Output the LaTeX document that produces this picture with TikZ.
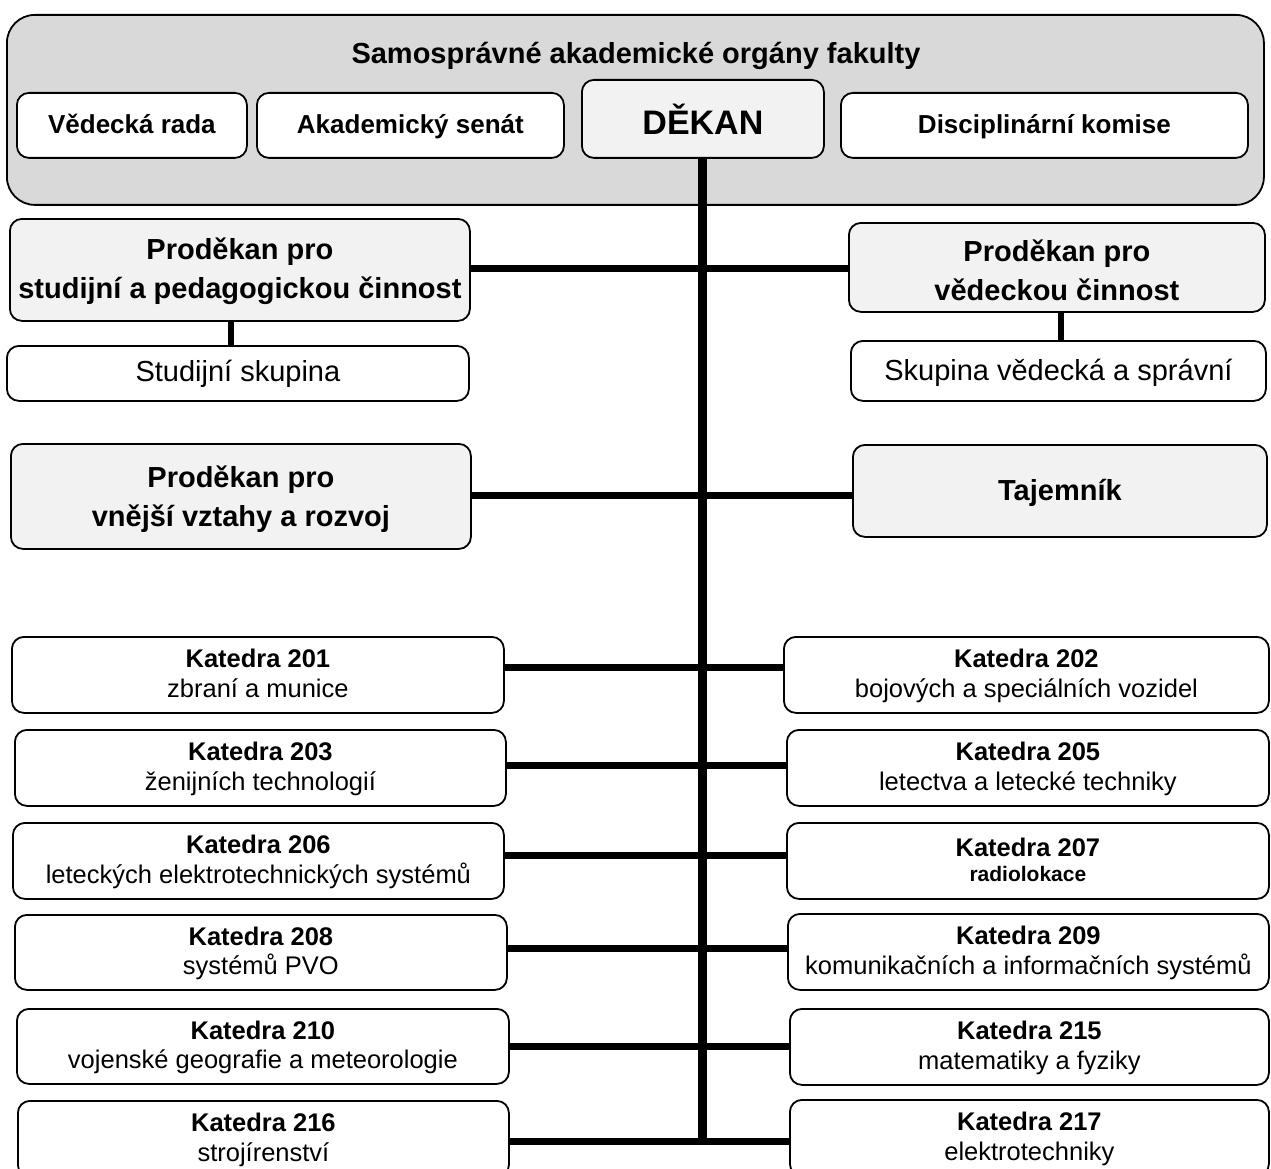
\documentclass[tikz,border=0pt]{standalone}
\usepackage{fontspec}
\setmainfont{Liberation Sans}
\definecolor{outerg}{HTML}{D9D9D9}
\definecolor{lightg}{HTML}{F2F2F2}
\newcommand{\fsz}[2]{\fontsize{#1}{#2}\selectfont}
\newcommand{\st}{\rule[-0.2em]{0pt}{1em}}
\newcommand{\stp}{\rule[-0.05em]{0pt}{0.9em}}
\newcommand{\stv}{\rule[0em]{0pt}{0.95em}}
\begin{document}
\begin{tikzpicture}[x=1pt,y=-1pt,
  box/.style={draw=black, line width=1.8pt, rounded corners=12pt, inner sep=0pt, align=center, anchor=north west},
  wbox/.style={box, fill=white},
  gbox/.style={box, fill=lightg},
  top/.style={wbox, font=\bfseries\fsz{26}{30}, minimum height=65pt},
  pro/.style={gbox, font=\bfseries\fsz{29}{38.5}},
  grp/.style={wbox, font=\fsz{29}{34}},
  kat/.style={wbox, font=\fsz{25.5}{29.5}, minimum height=76pt},
  link/.style={line width=7pt},
  spine/.style={line width=9pt}]
\useasboundingbox (0,0) rectangle (1271,1169);

% outer container
\node[box, fill=outerg, rounded corners=28pt, minimum width=1257pt, minimum height=190pt] (outer) at (6,14) {};
\node[font=\bfseries\fsz{29}{34}] (title) at (636,55) {Samosprávné akademické orgány fakulty\st};
\node[top, minimum width=230pt] (vr) at (16,92) {Vědecká rada\st};
\node[top, minimum width=307pt] (as) at (256,92) {Akademický senát\st};
\node[gbox, font=\bfseries\fsz{34}{40}, minimum width=242pt, minimum height=78pt] (dekan) at (581,79) {DĚKAN\rule{0pt}{0.9em}};
\node[top, minimum width=407pt] (dk) at (840,92) {Disciplinární komise\st};

% prodekani
\node[pro, minimum width=460pt, minimum height=102pt] (ps) at (9,218) {Proděkan pro\stp\\studijní a pedagogickou činnost\stp};
\node[pro, minimum width=416pt, minimum height=89pt] (pv) at (848,222) {Proděkan pro\stv\\vědeckou činnost\stv};
\node[grp, minimum width=462pt, minimum height=55pt] (ss) at (6,345) {Studijní skupina\st};
\node[grp, minimum width=415pt, minimum height=60pt] (sv) at (850,340) {Skupina vědecká a správní\stp};
\node[pro, minimum width=460pt, minimum height=105pt] (pr) at (10,443) {Proděkan pro\stv\\vnější vztahy a rozvoj\stv};
\node[pro, minimum width=414pt, minimum height=92pt] (taj) at (852,444) {Tajemník\stp};

% katedry
\node[kat, minimum width=492pt] (k201) at (11,636) {\textbf{Katedra 201}\st\\zbraní a munice\st};
\node[kat, minimum width=485pt] (k202) at (783,636) {\textbf{Katedra 202}\st\\bojových a speciálních vozidel\st};
\node[kat, minimum width=491pt] (k203) at (14,729) {\textbf{Katedra 203}\st\\ženijních technologií\st};
\node[kat, minimum width=482pt] (k205) at (786,729) {\textbf{Katedra 205}\st\\letectva a letecké techniky\st};
\node[kat, minimum width=491pt] (k206) at (12,822) {\textbf{Katedra 206}\st\\leteckých elektrotechnických systémů\st};
\node[kat, minimum width=482pt] (k207) at (786,822) {\textbf{Katedra 207}\st\\[-5pt]{\bfseries\fsz{21}{26}radiolokace\st}};
\node[kat, minimum width=492pt, minimum height=75pt] (k208) at (14,914) {\textbf{Katedra 208}\st\\systémů PVO\st};
\node[kat, minimum width=481pt] (k209) at (787,913) {\textbf{Katedra 209}\st\\komunikačních a informačních systémů\st};
\node[kat, minimum width=492pt, minimum height=75pt] (k210) at (16,1008) {\textbf{Katedra 210}\st\\vojenské geografie a meteorologie\st};
\node[kat, minimum width=479pt] (k215) at (789,1008) {\textbf{Katedra 215}\st\\matematiky a fyziky\st};
\node[kat, minimum width=491pt] (k216) at (17,1100) {\textbf{Katedra 216}\st\\strojírenství\st};
\node[kat, minimum width=479pt] (k217) at (789,1099) {\textbf{Katedra 217}\st\\elektrotechniky\st};

% connectors
\draw[spine] (dekan.south) -- (dekan.south |- 0,1144.5);
\draw[link] (ps.east |- 0,268) -- (pv.west |- 0,268);
\draw[link] (pr.east |- 0,495) -- (taj.west |- 0,495);
\draw[line width=6pt] (ps.south -| 231,0) -- (ss.north -| 231,0);
\draw[line width=6pt] (pv.south -| 1061,0) -- (sv.north -| 1061,0);
\draw[link] (k201.east |- 0,667) -- (k202.west |- 0,667);
\draw[link] (k203.east |- 0,765) -- (k205.west |- 0,765);
\draw[link] (k206.east |- 0,855) -- (k207.west |- 0,855);
\draw[link] (k208.east |- 0,948) -- (k209.west |- 0,948);
\draw[link] (k210.east |- 0,1046) -- (k215.west |- 0,1046);
\draw[link] (k216.east |- 0,1141) -- (k217.west |- 0,1141);
\end{tikzpicture}
\end{document}
